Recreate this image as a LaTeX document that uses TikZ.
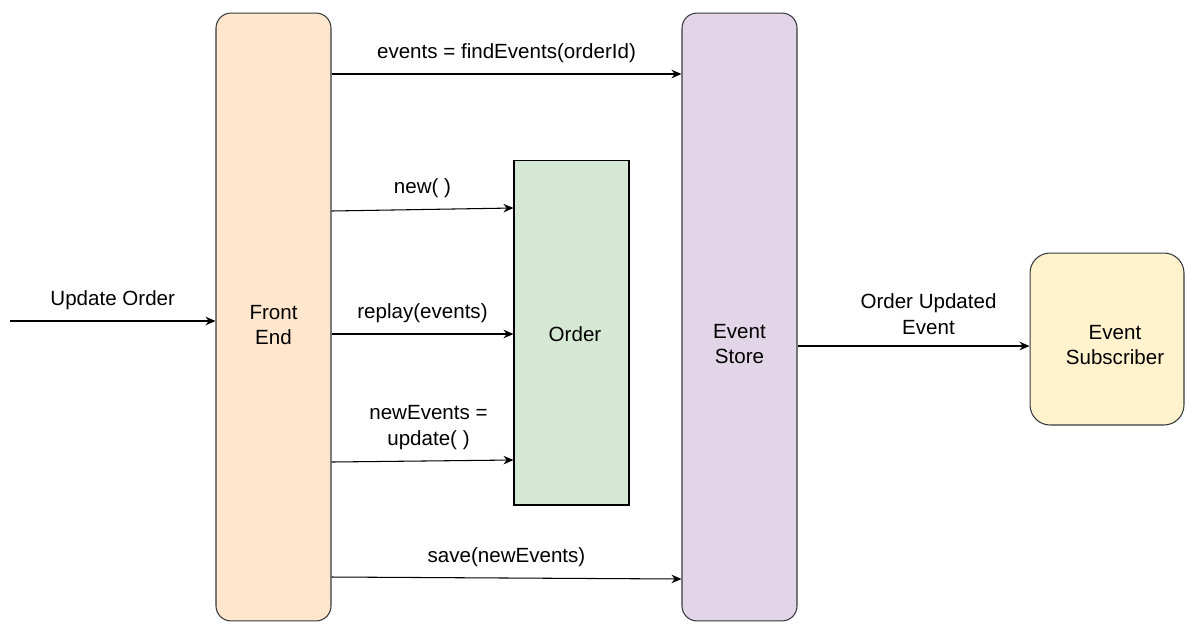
\documentclass[tikz,border=0pt]{standalone}
\usepackage{fontspec}
\setmainfont{Liberation Sans}
\usetikzlibrary{arrows.meta,positioning}

\definecolor{frontFill}{HTML}{FFE6CC}
\definecolor{storeFill}{HTML}{E1D5E7}
\definecolor{orderFill}{HTML}{D5E8D4}
\definecolor{subFill}{HTML}{FFF2CC}
\definecolor{boxLine}{HTML}{36393D}

\begin{document}
\begin{tikzpicture}[x=0.02cm,y=-0.02cm,font=\fontsize{11.7pt}{14.6pt}\selectfont,
    box/.style={draw=boxLine,line width=0.6pt,rounded corners=0.3cm},
    arr/.style={-{Stealth[length=0.2cm,width=0.17cm]},line width=0.6pt},
    lbl/.style={above=0.1cm,align=center}]
\useasboundingbox (0,0) rectangle (1185,623);

% the four boxes, text set apart
\node[box,fill=frontFill,minimum width=2.3cm,minimum height=12.16cm] (FE) at (273.5,317) {};
\node[align=center] (FEtext) at (273.5,325) {Front\\End};
\node[box,fill=storeFill,minimum width=2.3cm,minimum height=12.16cm] (ES) at (739.5,317) {};
\node[align=center] (EStext) at (739.5,344) {Event\\Store};
\node[draw=black,line width=0.6pt,fill=orderFill,minimum width=2.3cm,minimum height=6.9cm] (Ord) at (571.5,332.5) {};
\node (Ordtext) at (575,334) {Order};
\node[box,rounded corners=0.4cm,fill=subFill,minimum width=3.08cm,minimum height=3.44cm] (Sub) at (1107,339) {};
\node[align=center] (Subtext) at (1115,345) {Event\\Subscriber};

\coordinate (start) at (10,321);

% calls
\draw[arr] (start) -- node[lbl]{Update Order} (FE.west |- start);
\draw[arr] (FE.east |- 0,74) -- node[lbl]{events = findEvents(orderId)} (ES.west |- 0,74);
\draw[arr] (FE.east |- 0,211) -- node[lbl]{new( )} (Ord.west |- 0,208);
\draw[arr] (FE.east |- 0,334) -- node[lbl]{replay(events)} (Ord.west |- 0,334);
\draw[arr] (FE.east |- 0,462) -- node[lbl,xshift=0.12cm]{newEvents =\\update( )} (Ord.west |- 0,460);
\draw[arr] (FE.east |- 0,577) -- node[lbl]{save(newEvents)} (ES.west |- 0,579);
\draw[arr] (ES.east |- 0,346) -- node[lbl,xshift=0.3cm]{Order Updated\\Event} (Sub.west |- 0,346);
\end{tikzpicture}
\end{document}
